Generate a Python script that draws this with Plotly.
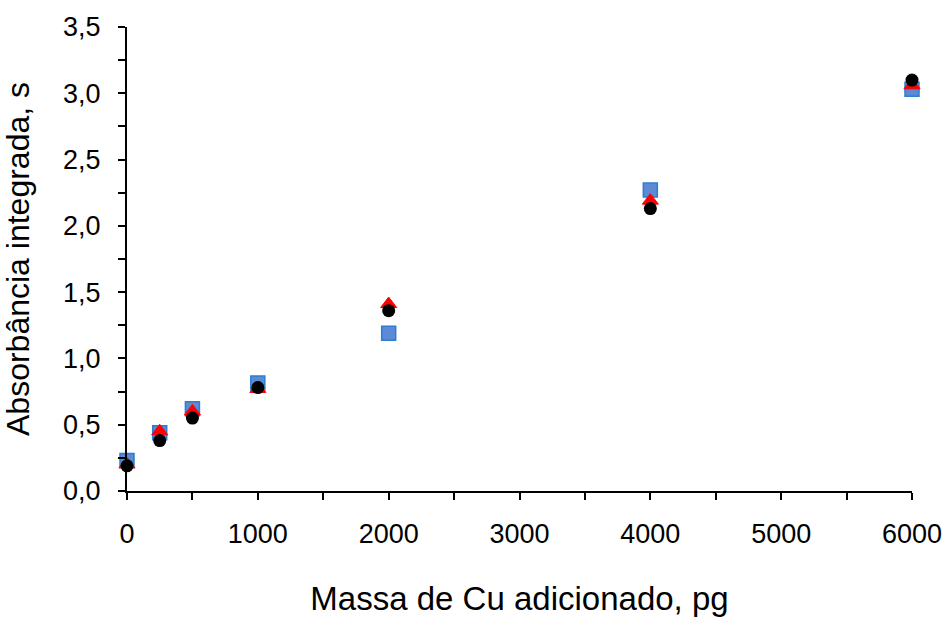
import plotly.graph_objects as go

massa = [0, 250, 500, 1000, 2000, 4000, 6000]
serie_quadrado = [0.23, 0.44, 0.62, 0.815, 1.19, 2.27, 3.03]
serie_triangulo = [0.20, 0.45, 0.60, 0.77, 1.41, 2.19, 3.06]
serie_circulo = [0.19, 0.38, 0.55, 0.78, 1.36, 2.13, 3.10]

FONT = "Liberation Sans, Arial"

fig = go.Figure()
fig.add_trace(go.Scatter(x=massa, y=serie_quadrado, mode="markers", cliponaxis=False,
                         marker=dict(symbol="square", size=14, color="#5b8ad6",
                                     line=dict(color="#2d7dd0", width=1.5))))
fig.add_trace(go.Scatter(x=massa, y=serie_triangulo, mode="markers", cliponaxis=False,
                         marker=dict(symbol="triangle-up", size=14, color="#ff0000",
                                     line=dict(color="#ff0000", width=1))))
fig.add_trace(go.Scatter(x=massa, y=serie_circulo, mode="markers", cliponaxis=False,
                         marker=dict(symbol="circle", size=13, color="#000000")))

axis_common = dict(showgrid=False, zeroline=False, showline=True, linecolor="black",
                   linewidth=2, ticks="outside", ticklen=7, tickwidth=1.5, tickcolor="black",
                   automargin=False,
                   tickfont=dict(family=FONT, size=27, color="black"))

fig.update_xaxes(range=[0, 6000], dtick=1000, tick0=0, ticklabelstandoff=11,
                 minor=dict(dtick=500, ticks="outside", ticklen=7, tickwidth=1.5, tickcolor="black"),
                 title=dict(text="Massa de Cu adicionado, pg", standoff=45,
                            font=dict(family=FONT, size=33, color="black")),
                 **axis_common)
fig.update_yaxes(range=[0, 3.5], dtick=0.5, tick0=0, tickformat=".1f", ticklabelstandoff=12,
                 minor=dict(dtick=0.25, ticks="outside", ticklen=7, tickwidth=1.5, tickcolor="black"),
                 title=dict(text="Absorbância integrada, s", standoff=24,
                            font=dict(family=FONT, size=32, color="black")),
                 **axis_common)

fig.update_layout(width=946, height=617, showlegend=False, separators=", ",
                  plot_bgcolor="white", paper_bgcolor="white",
                  margin=dict(l=127, r=34, t=27, b=126))
fig.write_html("out.html")
